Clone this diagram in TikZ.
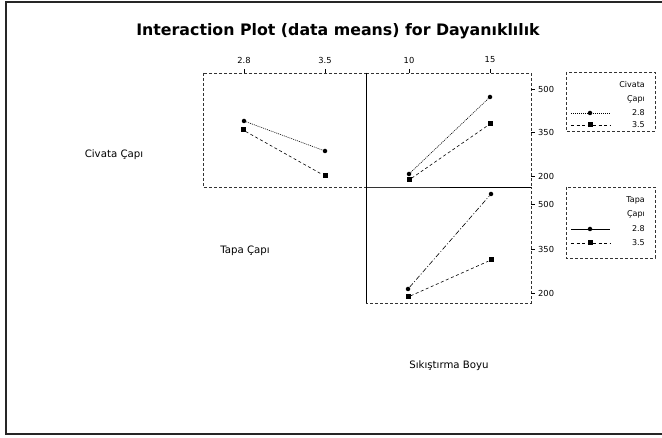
\documentclass[tikz,border=0pt]{standalone}
\usepackage{fontspec}
\setmainfont{DejaVu Sans}
\begin{document}
\begin{tikzpicture}[x=1pt,y=-1pt,
  panel/.style={draw=black!80,line width=0.5pt,densely dashed},
  axis/.style={draw=black,line width=0.7pt},
  tick/.style={draw=black,line width=0.5pt},
  ticklab/.style={font=\fontsize{8.3}{9}\selectfont,inner sep=1pt},
  axlab/.style={font=\fontsize{10.2}{12}\selectfont,inner sep=1pt},
  leglab/.style={font=\fontsize{8}{9}\selectfont,inner sep=1pt,anchor=east},
  dot/.style={circle,fill=black,inner sep=0pt,minimum size=4.5pt},
  sq/.style={rectangle,fill=black,inner sep=0pt,minimum size=5pt},
  lineA/.style={line width=0.6pt,dash pattern=on 1pt off 1pt},
  lineB/.style={line width=0.6pt,dash pattern=on 3pt off 2.5pt},
  lineC/.style={line width=0.6pt,dash pattern=on 5pt off 2pt on 1pt off 2pt},
  lineD/.style={line width=0.7pt}]
\useasboundingbox (0,0) rectangle (662,438);
% outer frame
\draw[line width=1.2pt,black!85] (662,2) -- (6,2) -- (6,434) -- (662,434);
% title
\node[font=\bfseries\fontsize{15.8}{18}\selectfont] (title) at (338,31) {Interaction Plot (data means) for Dayanıklılık};
% panels
\draw[panel] (203,73) rectangle (366,187);
\draw[panel] (366,73) rectangle (531,187);
\draw[panel] (366,187) rectangle (531,303);
\draw[axis] (366,73) -- (366,303);
\draw[axis] (440,187) -- (531,187);
% top ticks
\foreach \x/\l in {244/2.8,325/3.5,409/10,490/15}{
  \draw[tick] (\x,73) -- (\x,69);
  \node[ticklab] at (\x,60) {\l};
}
% right ticks
\foreach \y/\l in {89/500,132/350,176/200,204/500,249/350,293/200}{
  \draw[tick] (531,\y) -- (535,\y);
  \node[ticklab,anchor=west] at (537,\y) {\l};
}
% axis labels
\node[axlab] (civ) at (114,155) {Civata Çapı};
\node[axlab] (tapa) at (245,251) {Tapa Çapı};
\node[axlab] (sik) at (449,366) {Sıkıştırma Boyu};
% top-left panel
\node[dot] (a1) at (244,121) {};
\node[dot] (a2) at (325,151) {};
\node[sq] (b1) at (243,130) {};
\node[sq] (b2) at (325,176) {};
\draw[lineA] (a1) -- (a2);
\draw[lineB] (b1) -- (b2);
% top-right panel
\node[dot] (c1) at (409,174) {};
\node[dot] (c2) at (490,97) {};
\node[sq] (d1) at (409,180) {};
\node[sq] (d2) at (490,124) {};
\draw[lineA] (c1) -- (c2);
\draw[lineB] (d1) -- (d2);
% bottom-right panel
\node[dot] (e1) at (408,289) {};
\node[dot] (e2) at (491,194) {};
\node[sq] (f1) at (408,297) {};
\node[sq] (f2) at (491,260) {};
\draw[lineC] (e1) -- (e2);
\draw[lineB] (f1) -- (f2);
% legend 1
\draw[panel] (566,72) rectangle (655,131);
\node[leglab] at (646,85) {Civata};
\node[leglab] at (646,99) {Çapı};
\node[leglab] at (646,113) {2.8};
\node[leglab] at (646,125) {3.5};
\coordinate (l1a) at (571,113); \coordinate (l1b) at (610,113);
\coordinate (l2a) at (571,125); \coordinate (l2b) at (610,125);
\draw[lineA] (l1a) -- (l1b);
\draw[lineB] (l2a) -- (l2b);
\node[dot] at (590,113) {};
\node[sq] at (590,125) {};
% legend 2
\draw[panel] (566,187) rectangle (655,258);
\node[leglab] at (646,200) {Tapa};
\node[leglab] at (646,214) {Çapı};
\node[leglab] at (646,229) {2.8};
\node[leglab] at (646,243) {3.5};
\coordinate (l3a) at (571,229); \coordinate (l3b) at (610,229);
\coordinate (l4a) at (571,243); \coordinate (l4b) at (610,243);
\draw[lineD] (l3a) -- (l3b);
\draw[lineB] (l4a) -- (l4b);
\node[dot] at (590,229) {};
\node[sq] at (590,243) {};
\end{tikzpicture}
\end{document}
